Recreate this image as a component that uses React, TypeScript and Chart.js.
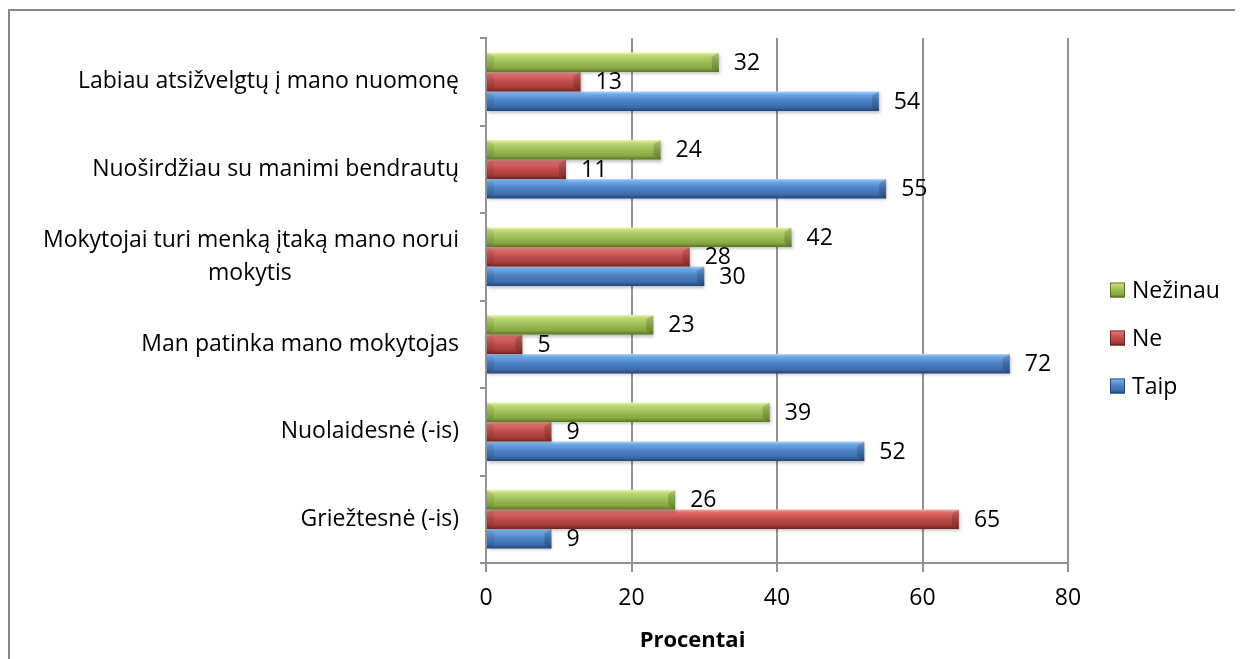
import React, { useEffect, useRef } from "react";
import { Chart, registerables } from "chart.js";

Chart.register(...registerables);

const categories: (string | string[])[] = [
  "Labiau atsižvelgtų į mano nuomonę",
  "Nuoširdžiau su manimi bendrautų",
  ["Mokytojai turi menką įtaką mano norui", "mokytis"],
  "Man patinka mano mokytojas",
  "Nuolaidesnė (-is)",
  "Griežtesnė (-is)",
];
const seriesNames = ["Nežinau", "Ne", "Taip"];
const nezinauValues = [32, 24, 42, 23, 39, 26];
const neValues = [13, 11, 28, 5, 9, 65];
const taipValues = [54, 55, 30, 72, 52, 9];
const xTickValues = [0, 20, 40, 60, 80];
const axisTitle = "Procentai";

const FONT_FAMILY = "'Open Sans', 'Noto Sans', sans-serif";
const FONT_SIZE = 23;
const GRID = "#929292";

// gradient stops top -> bottom
const palettes = [
  ["#e8f7b0", "#bfdc78", "#9fc156", "#87a843", "#5a7526"],
  ["#f8aeac", "#e06d6a", "#c2504d", "#a73c39", "#702321"],
  ["#b0d6fc", "#6fa9e8", "#4e84c6", "#3c6caa", "#224676"],
];
const mainColors = ["#9bbb59", "#c0504d", "#4f81bd"];

function makeGrad(ctx: CanvasRenderingContext2D, top: number, bottom: number, pal: string[]) {
  const g = ctx.createLinearGradient(0, top, 0, bottom);
  g.addColorStop(0, pal[0]);
  g.addColorStop(0.14, pal[1]);
  g.addColorStop(0.45, pal[2]);
  g.addColorStop(0.8, pal[3]);
  g.addColorStop(1, pal[4]);
  return g;
}

const barStylePlugin = {
  id: "barStyle",
  beforeDatasetsDraw(chart: any) {
    const ctx = chart.ctx as CanvasRenderingContext2D;
    chart.data.datasets.forEach((_ds: any, i: number) => {
      const meta = chart.getDatasetMeta(i);
      const pal = palettes[i];
      meta.data.forEach((el: any) => {
        const top = el.y - el.height / 2;
        const bottom = el.y + el.height / 2;
        el.options = Object.assign({}, el.options, {
          backgroundColor: makeGrad(ctx, top, bottom, pal),
        });
      });
    });
    ctx.save();
    ctx.shadowColor = "rgba(0,0,0,0.25)";
    ctx.shadowOffsetX = 1;
    ctx.shadowOffsetY = 2;
    ctx.shadowBlur = 3;
  },
  afterDatasetsDraw(chart: any) {
    const ctx = chart.ctx as CanvasRenderingContext2D;
    ctx.restore();
    // bevel at the ends of bars
    chart.data.datasets.forEach((_ds: any, i: number) => {
      const meta = chart.getDatasetMeta(i);
      meta.data.forEach((el: any) => {
        const top = el.y - el.height / 2;
        const bottom = el.y + el.height / 2;
        const b = Math.min(7, Math.abs(el.x - el.base) / 2);
        ctx.save();
        ctx.fillStyle = "rgba(0,0,0,0.16)";
        ctx.beginPath();
        ctx.moveTo(el.x, top);
        ctx.lineTo(el.x, bottom);
        ctx.lineTo(el.x - b, bottom - b * 0.6);
        ctx.lineTo(el.x - b, top + b * 0.6);
        ctx.closePath();
        ctx.fill();
        ctx.fillStyle = "rgba(0,0,0,0.08)";
        ctx.beginPath();
        ctx.moveTo(el.base, top);
        ctx.lineTo(el.base, bottom);
        ctx.lineTo(el.base + b, bottom - b * 0.6);
        ctx.lineTo(el.base + b, top + b * 0.6);
        ctx.closePath();
        ctx.fill();
        ctx.restore();
      });
    });
    // value labels
    ctx.save();
    ctx.font = `${FONT_SIZE}px ${FONT_FAMILY}`;
    ctx.fillStyle = "#000";
    ctx.textAlign = "left";
    ctx.textBaseline = "middle";
    chart.data.datasets.forEach((ds: any, i: number) => {
      const meta = chart.getDatasetMeta(i);
      meta.data.forEach((el: any, j: number) => {
        ctx.fillText(String(ds.data[j]), el.x + 15, el.y + 1);
      });
    });
    ctx.restore();
  },
};

const decorPlugin = {
  id: "decor",
  afterDraw(chart: any) {
    const ctx = chart.ctx as CanvasRenderingContext2D;
    const area = chart.chartArea;
    // legend
    ctx.save();
    ctx.font = `${FONT_SIZE}px ${FONT_FAMILY}`;
    ctx.textBaseline = "middle";
    ctx.textAlign = "left";
    const spacing = 48;
    const cy = chart.height / 2 + 3;
    const bx = area.right + 42;
    chart.data.datasets.forEach((ds: any, i: number) => {
      const y = cy + (i - 1) * spacing;
      const s = 15;
      const top = y - s / 2;
      ctx.fillStyle = makeGrad(ctx, top, top + s, palettes[i]);
      ctx.fillRect(bx, top, s, s);
      ctx.strokeStyle = palettes[i][4];
      ctx.lineWidth = 1;
      ctx.strokeRect(bx + 0.5, top + 0.5, s - 1, s - 1);
      ctx.fillStyle = "#000";
      ctx.fillText(ds.label, bx + s + 7, y + 1);
    });
    // axis title
    ctx.font = `bold 22px ${FONT_FAMILY}`;
    ctx.textAlign = "center";
    ctx.fillText(axisTitle, chart.width / 2 + 66, area.bottom + 78);
    ctx.restore();
  },
};

export default function App() {
  const ref = useRef<HTMLCanvasElement | null>(null);
  useEffect(() => {
    document.body.style.overflow = "hidden";
    if (!ref.current) return;
    const values = [nezinauValues, neValues, taipValues];
    const chart = new Chart(ref.current, {
      type: "bar",
      data: {
        labels: categories as any,
        datasets: seriesNames.map((name, i) => ({
          label: name,
          data: values[i],
          backgroundColor: mainColors[i],
          borderWidth: 0,
          categoryPercentage: 0.667,
          barPercentage: 1,
        })),
      },
      options: {
        indexAxis: "y",
        animation: false,
        responsive: true,
        maintainAspectRatio: false,
        layout: { padding: { top: 27, right: 175, left: 0, bottom: 0 } },
        plugins: { legend: { display: false }, tooltip: { enabled: false } },
        scales: {
          x: {
            min: 0,
            max: 80,
            afterBuildTicks: (scale: any) => {
              scale.ticks = xTickValues.map((v) => ({ value: v }));
            },
            ticks: {
              color: "#000",
              font: { family: FONT_FAMILY, size: FONT_SIZE },
              padding: 13,
            },
            grid: { color: GRID, lineWidth: 2, tickLength: 9 },
            border: { color: GRID, width: 2 },
            afterFit: (scale: any) => {
              scale.height = 96;
              scale.paddingLeft = 0;
              scale.paddingRight = 0;
            },
          },
          y: {
            ticks: {
              color: "#000",
              autoSkip: false,
              font: { family: FONT_FAMILY, size: FONT_SIZE, lineHeight: 1.45 },
              padding: 21,
              callback: function (this: any, _v: any, index: number) {
                const lbl = categories[index];
                if (!Array.isArray(lbl)) return lbl;
                const ctx = this.chart.ctx as CanvasRenderingContext2D;
                ctx.save();
                ctx.font = `${FONT_SIZE}px ${FONT_FAMILY}`;
                const w0 = Math.max(...lbl.map((l) => ctx.measureText(l).width));
                const sp = ctx.measureText(" ").width;
                const out = lbl.map((l) => {
                  const w = ctx.measureText(l).width;
                  const n = Math.round((w0 - w) / 2 / sp);
                  return l + " ".repeat(Math.max(0, n));
                });
                ctx.restore();
                return out;
              },
            },
            grid: { drawOnChartArea: false, tickLength: 6, color: GRID, lineWidth: 2 },
            border: { color: GRID, width: 2 },
            afterFit: (scale: any) => {
              scale.width = 476;
              scale.paddingTop = 0;
              scale.paddingBottom = 0;
            },
          },
        },
      },
      plugins: [barStylePlugin, decorPlugin],
    });
    return () => chart.destroy();
  }, []);
  return (
    <div
      style={{
        marginTop: 1,
        borderTop: "2px solid #878787",
        borderLeft: "2px solid #878787",
        width: 1233,
        height: 648,
        position: "relative",
      }}
    >
      <canvas ref={ref} />
    </div>
  );
}
